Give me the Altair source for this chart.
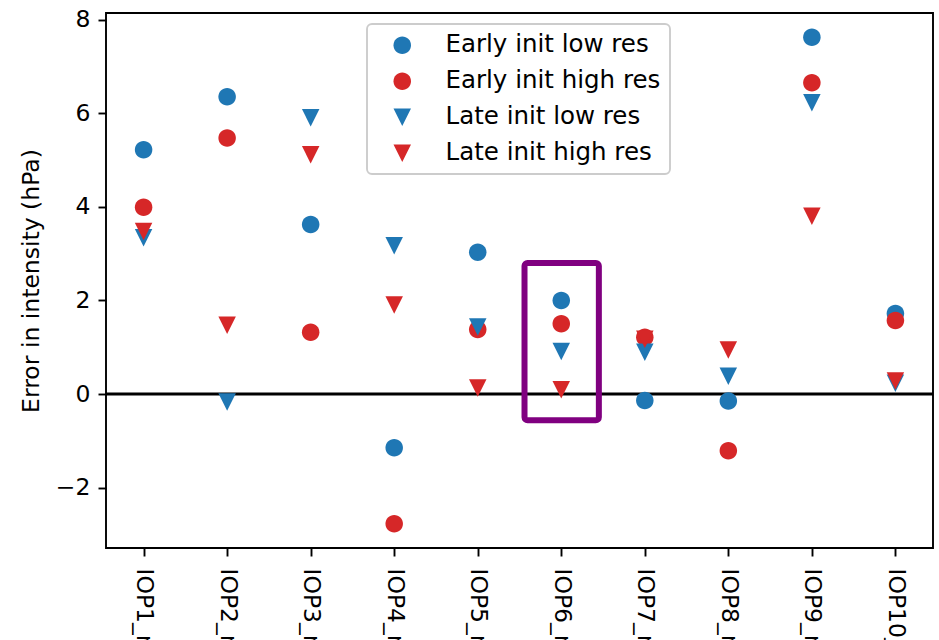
import altair as alt
import pandas as pd

cases = ["IOP1_run", "IOP2_run", "IOP3_run", "IOP4_run", "IOP5_run",
         "IOP6_run", "IOP7_run", "IOP8_run", "IOP9_run", "IOP10_run"]
series_names = ["Early init low res", "Early init high res",
                "Late init low res", "Late init high res"]
early_low = [5.22, 6.35, 3.62, -1.15, 3.03, 2.00, -0.14, -0.15, 7.62, 1.72]
early_high = [3.99, 5.47, 1.32, -2.77, 1.38, 1.50, 1.21, -1.21, 6.65, 1.57]
late_low = [3.34, -0.17, 5.90, 3.17, 1.43, 0.91, 0.89, 0.38, 6.22, 0.23]
late_high = [3.47, 1.47, 5.11, 1.90, 0.13, 0.09, 1.17, 0.94, 3.80, 0.28]
highlight_x = [4.56, 5.45]
highlight_y = [-0.56, 2.80]

rows = []
for name, vals in zip(series_names, [early_low, early_high, late_low, late_high]):
    for i, v in enumerate(vals):
        rows.append({"idx": i, "case": cases[i], "series": name, "err": v})
df = pd.DataFrame(rows)

FONT = "DejaVu Sans"
FS = 23.5
CIRCLE = "M-1,0A1,1,0,1,0,1,0A1,1,0,1,0,-1,0Z"
TRI = "M-1,-1L1,-1L0,1Z"

label_expr = "[" + ",".join("'%s'" % c for c in cases) + "][datum.value]"

xscale = alt.Scale(domain=[-0.45, 9.45], nice=False, zero=False)
yscale = alt.Scale(domain=[-3.29, 8.14], nice=False, zero=False)

xaxis = alt.Axis(values=list(range(10)), labelExpr=label_expr, labelAngle=90,
                 labelAlign="left", labelBaseline="middle", labelPadding=12,
                 title=None, grid=False, domain=False, tickColor="black",
                 tickWidth=1.9, tickSize=8, labelFont=FONT, labelFontSize=FS,
                 labelColor="black", labelOverlap=False)
yaxis = alt.Axis(values=[-2, 0, 2, 4, 6, 8], title="Error in intensity (hPa)",
                 grid=False, domain=False, tickColor="black", tickWidth=1.9,
                 tickSize=8, labelFont=FONT, labelFontSize=FS, labelColor="black",
                 labelPadding=8, titleFont=FONT, titleFontSize=FS,
                 titleFontWeight="normal", titleColor="black", titlePadding=12)

points = alt.Chart(df).mark_point(filled=True, opacity=1, size=306, strokeWidth=0).encode(
    x=alt.X("idx:Q", scale=xscale, axis=xaxis),
    y=alt.Y("err:Q", scale=yscale, axis=yaxis),
    color=alt.Color("series:N", sort=series_names,
                    scale=alt.Scale(domain=series_names,
                                    range=["#1f77b4", "#d62728", "#1f77b4", "#d62728"]),
                    legend=alt.Legend(title=None, orient="none", legendX=261, legendY=11)),
    shape=alt.Shape("series:N", sort=series_names,
                    scale=alt.Scale(domain=series_names,
                                    range=[CIRCLE, CIRCLE, TRI, TRI]),
                    legend=alt.Legend(title=None, orient="none", legendX=261, legendY=11)),
)

zero = alt.Chart(pd.DataFrame({"y": [0]})).mark_rule(color="black", strokeWidth=2.8).encode(
    y=alt.Y("y:Q", scale=yscale)
)

box_df = pd.DataFrame({"x": [highlight_x[0]], "x2": [highlight_x[1]],
                       "y": [highlight_y[0]], "y2": [highlight_y[1]]})
box = alt.Chart(box_df).mark_rect(fillOpacity=0, stroke="#800080", strokeWidth=6,
                                  cornerRadius=3).encode(
    x=alt.X("x:Q", scale=xscale), x2="x2:Q",
    y=alt.Y("y:Q", scale=yscale), y2="y2:Q"
)

chart = alt.layer(zero, points, box).properties(
    width=827, height=535,
    autosize=alt.AutoSizeParams(type="none"),
    padding={"left": 106, "top": 13, "right": 6, "bottom": 92},
).configure_view(stroke="black", strokeWidth=1.9).configure_legend(
    fillColor="white", strokeColor="#cccccc", strokeWidth=1.9, cornerRadius=5,
    padding=9, labelFont=FONT, labelFontSize=24.5, labelColor="black",
    symbolSize=306, symbolStrokeWidth=0, symbolOffset=14, labelOffset=31,
    rowPadding=11, labelLimit=400
)

chart.save("out.html", embed_options={"renderer": "svg", "actions": False})
